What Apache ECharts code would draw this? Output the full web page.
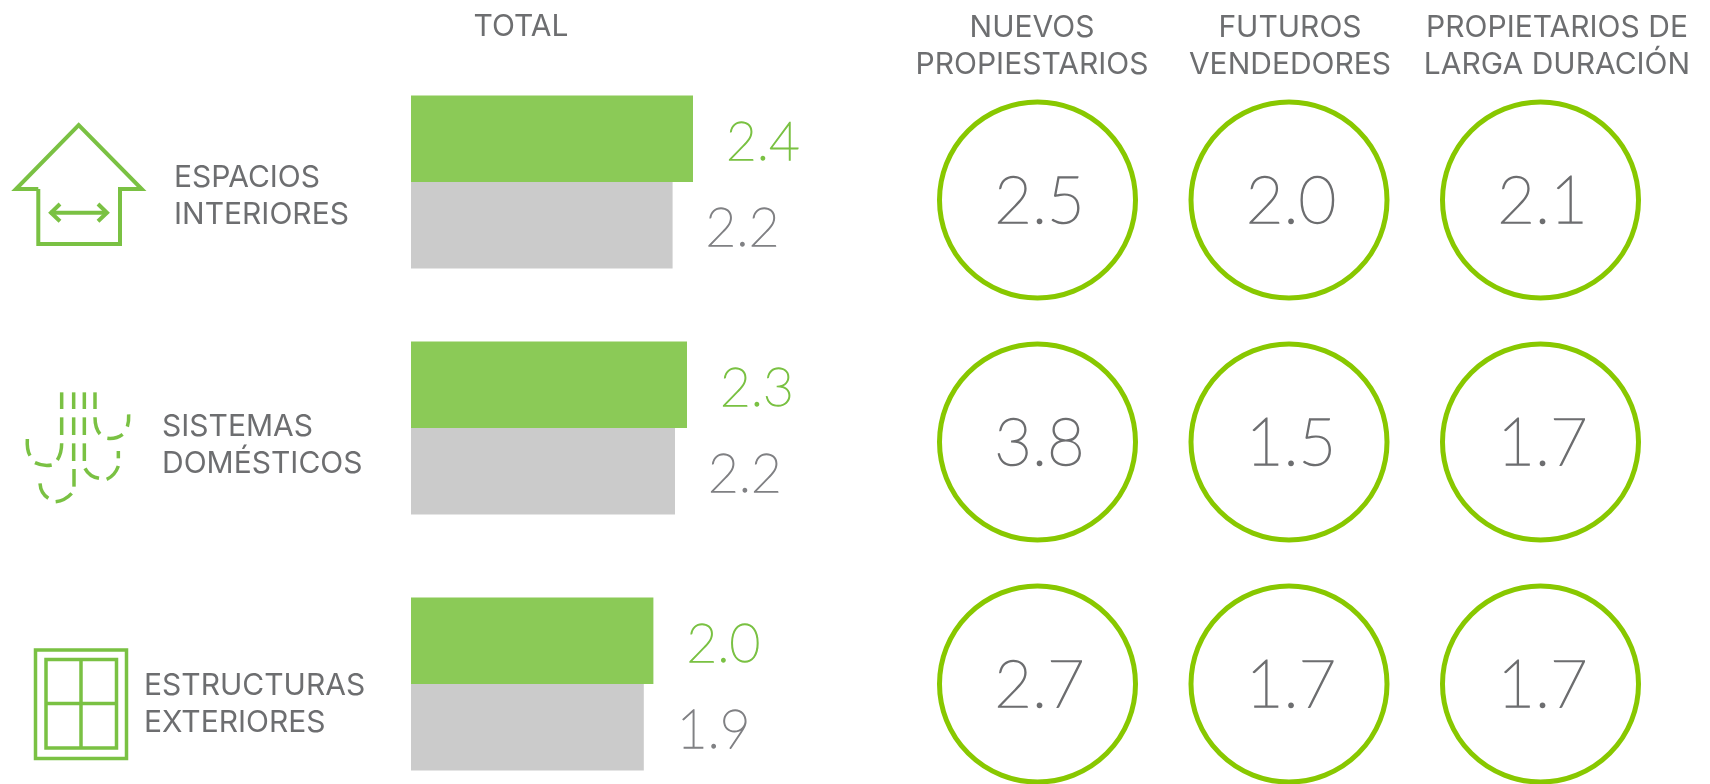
<!DOCTYPE html>
<html><head><meta charset="utf-8">
<style>html,body{margin:0;padding:0;background:#fff}#c{width:1710px;height:784px}</style>
<script src="https://cdn.jsdelivr.net/npm/echarts@6/dist/echarts.min.js"></script>
</head><body><div id="c"></div>
<script>
const rowNames = [['ESPACIOS','INTERIORES'],['SISTEMAS','DOMÉSTICOS'],['ESTRUCTURAS','EXTERIORES']];
const columnHeads = ['NUEVOS\nPROPIESTARIOS','FUTUROS\nVENDEDORES','PROPIETARIOS DE\nLARGA DURACIÓN'];
const totalHead = 'TOTAL';
const totalGreen = [2.35, 2.30, 2.02];
const totalGray = [2.18, 2.20, 1.94];
const nuevos = [2.5, 3.8, 2.7];
const futuros = [2.0, 1.5, 1.7];
const largaDuracion = [2.1, 1.7, 1.7];

const GREEN='#8bca57', GRAY='#cbcbcb', ICON='#7ac143', RING='#88c800', TEXT='#6d6e70', NUMGRAY='#808184';
const FONT='Lato', HEADFONT='Inter';
const gridTops=[95.4,341.4,597.4];
const grids=[],xAxes=[],yAxes=[],series=[];
gridTops.forEach((top,i)=>{
  grids.push({left:411,top:top,width:360,height:173});
  xAxes.push({gridIndex:i,type:'value',min:0,max:3,show:false});
  yAxes.push({gridIndex:i,type:'category',inverse:true,show:false,data:['a','b']});
  series.push({type:'bar',xAxisIndex:i,yAxisIndex:i,barWidth:'100%',animation:false,silent:true,
    data:[
      {value:totalGreen[i],itemStyle:{color:GREEN},label:{color:ICON,textBorderColor:ICON}},
      {value:totalGray[i],itemStyle:{color:GRAY},label:{color:NUMGRAY,textBorderColor:NUMGRAY}}],
    label:{show:true,position:'right',distance:33,offset:[0,4],fontFamily:FONT,fontWeight:200,fontSize:53,textBorderWidth:1.3,
      formatter:p=>p.value.toFixed(1)}});
});
// circle matrix: rows are 242px apart, the last one runs off the page
grids.push({left:911.75,top:79,width:754.5,height:705});
xAxes.push({gridIndex:3,type:'category',show:false,data:columnHeads});
yAxes.push({gridIndex:3,type:'value',inverse:true,show:false,min:-0.5,max:2.4132});
const cells=[];
[nuevos,futuros,largaDuracion].forEach((col,c)=>col.forEach((v,r)=>cells.push([c,r,v])));
series.push({type:'scatter',xAxisIndex:3,yAxisIndex:3,symbol:'circle',symbolSize:196,clip:false,animation:false,silent:true,
  itemStyle:{color:'#fff',borderColor:RING,borderWidth:5,opacity:1},
  label:{show:true,position:'inside',offset:[2,2.5],color:TEXT,textBorderColor:TEXT,textBorderWidth:1.5,fontFamily:FONT,fontWeight:200,fontSize:65,formatter:p=>p.value[2].toFixed(1)},
  data:cells});

const txt=(x,y,s,align)=>({type:'text',x:x,y:y,silent:true,style:{text:s,fill:TEXT,font:'400 30px '+HEADFONT,align:align||'left',verticalAlign:'middle',lineHeight:37}});
const pl=(pts,w)=>({type:'polyline',silent:true,shape:{points:pts},style:{stroke:ICON,fill:null,lineWidth:w||4,lineJoin:'miter'}});
const P=(x,y)=>[20+x/3,385+y/3];
const seg=(x,y1,y2)=>pl([P(x,y1),P(x,y2)],3.5);
const q=(a,b,c,d,e,f)=>{const s=P(a,b),k=P(c,d),t=P(e,f);return {type:'bezierCurve',silent:true,
  shape:{x1:s[0],y1:s[1],cpx1:k[0],cpy1:k[1],x2:t[0],y2:t[1]},style:{stroke:ICON,fill:null,lineWidth:3.5}};};
const pipes=[
  seg(125,22,72),seg(125,97,150),
  seg(161,22,72),seg(161,97,150),seg(161,175,228),
  seg(193,22,72),seg(193,97,150),seg(193,175,228),
  seg(225,22,72),
  q(225,97,225,130,240,147),q(262,160,288,163,308,148),q(322,125,327,110,326,88),
  q(22,162,20,195,30,212),q(45,233,70,245,95,240),q(112,225,125,205,125,175),
  seg(295,198,220),q(295,243,285,272,260,283),q(237,280,208,275,195,250),
  seg(162,252,305),q(155,325,135,347,107,350),q(85,340,62,325,60,295)
];
const graphics=[
  txt(521,27,totalHead,'center'),
  txt(1032,46,columnHeads[0],'center'),txt(1290,46,columnHeads[1],'center'),txt(1557,46,columnHeads[2],'center'),
  txt(174,196.5,rowNames[0].join('\n')),txt(162,445,rowNames[1].join('\n')),txt(144,704,rowNames[2].join('\n')),
  // house
  pl([[38.3,189],[16,189],[78.7,125],[141.7,189],[120,189],[120,244],[38.3,244],[38.3,189]]),
  pl([[50,212.7],[107,212.7]]),pl([[60,204],[51,212.7],[60,221.3]]),pl([[98,204],[107,212.7],[98,221.3]]),
  // window
  {type:'rect',silent:true,shape:{x:35.5,y:650,width:91,height:108.5},style:{stroke:ICON,fill:null,lineWidth:3.5}},
  {type:'rect',silent:true,shape:{x:46,y:659.5,width:70.5,height:88.5},style:{stroke:ICON,fill:null,lineWidth:3.5}},
  pl([[81,659],[81,748]],3.5),pl([[46,703.5],[116,703.5]],3.5)
].concat(pipes);
const chart=echarts.init(document.getElementById('c'));
chart.setOption({animation:false,backgroundColor:'#fff',grid:grids,xAxis:xAxes,yAxis:yAxes,series:series,graphic:graphics});
</script></body></html>
